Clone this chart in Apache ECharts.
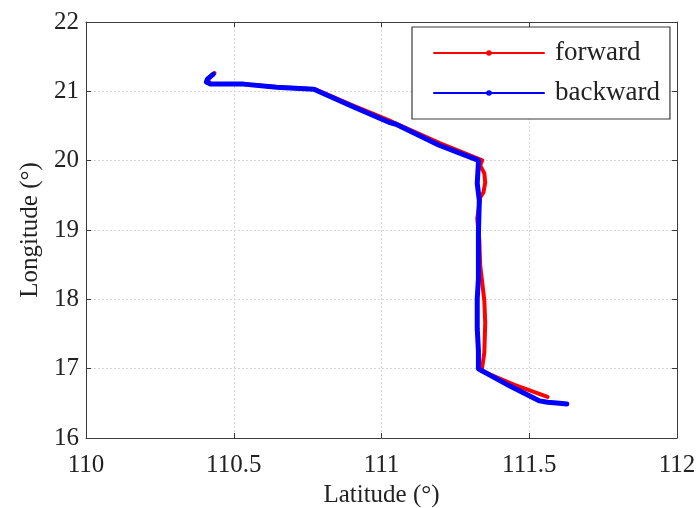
<!DOCTYPE html>
<html>
<head>
<meta charset="utf-8">
<script src="https://cdn.jsdelivr.net/npm/echarts@6/dist/echarts.min.js"></script>
<style>html,body{margin:0;padding:0;background:#fff}#c{width:697px;height:508px}</style>
</head>
<body>
<div id="c"></div>
<script>
// x values: "Latitude (°)" axis, y values: "Longitude (°)" axis
const xTicks = [110, 110.5, 111, 111.5, 112];
const yTicks = [16, 17, 18, 19, 20, 21, 22];

const forwardX = [110.435, 110.411, 110.421, 110.533, 110.645, 110.774, 110.900, 111.032, 111.199, 111.341,
  111.334, 111.348, 111.351, 111.345, 111.334, 111.328, 111.324, 111.331, 111.334, 111.341, 111.348,
  111.351, 111.348, 111.341, 111.338, 111.450, 111.562];
const forwardY = [21.263, 21.176, 21.104, 21.104, 21.062, 21.031, 20.800, 20.569, 20.251, 20.005,
  19.933, 19.817, 19.687, 19.542, 19.470, 19.282, 19.166, 18.848, 18.487, 18.241, 17.981,
  17.663, 17.229, 17.027, 16.969, 16.766, 16.593];

const backwardX = [110.431, 110.411, 110.407, 110.421, 110.455, 110.533, 110.645, 110.771, 110.900, 111.025,
  111.049, 111.195, 111.328, 111.328, 111.324, 111.331, 111.328, 111.328, 111.328, 111.324, 111.324,
  111.328, 111.328, 111.433, 111.535, 111.562, 111.593, 111.627];
const backwardY = [21.248, 21.176, 21.133, 21.104, 21.104, 21.104, 21.060, 21.031, 20.786, 20.554,
  20.525, 20.222, 20.005, 19.976, 19.672, 19.427, 18.949, 18.603, 18.299, 18.010, 17.576,
  17.258, 16.998, 16.752, 16.535, 16.515, 16.506, 16.492];

const seriesNames = ['forward', 'backward'];
const xTitle = 'Latitude (°)';
const yTitle = 'Longitude (°)';

const font = '"Liberation Serif", serif';
const axisColor = '#3a3a3a';

function pairs(xs, ys) { return xs.map((x, i) => [x, ys[i]]); }

const chart = echarts.init(document.getElementById('c'), null, {renderer: 'canvas'});
const baseAxis = {
  axisLine: {show: true, onZero: false, lineStyle: {color: axisColor, width: 1}},
  axisTick: {show: true, inside: true, length: 5, lineStyle: {color: axisColor}},
};
chart.setOption({
  animation: false,
  backgroundColor: '#fff',
  grid: {left: 86, right: 20, top: 22, bottom: 70, containLabel: false, outerBoundsMode: 'none'},
  xAxis: [
    Object.assign({}, baseAxis, {
      type: 'value', min: xTicks[0], max: xTicks[xTicks.length - 1], interval: 0.5, position: 'bottom',
      name: xTitle, nameLocation: 'middle', nameGap: 45,
      nameTextStyle: {fontFamily: font, fontSize: 25, color: '#222'},
      axisLabel: {fontFamily: font, fontSize: 25, color: '#222', margin: 15},
      splitLine: {show: true, lineStyle: {color: '#d4d4d4', type: [2, 2], width: 1}}
    }),
    Object.assign({}, baseAxis, {
      type: 'value', min: xTicks[0], max: xTicks[xTicks.length - 1], interval: 0.5, position: 'top',
      axisLabel: {show: false}, splitLine: {show: false}
    })
  ],
  yAxis: [
    Object.assign({}, baseAxis, {
      type: 'value', min: yTicks[0], max: yTicks[yTicks.length - 1], interval: 1, position: 'left',
      name: yTitle, nameLocation: 'middle', nameGap: 43, nameRotate: 90,
      nameTextStyle: {fontFamily: font, fontSize: 25, color: '#222'},
      axisLabel: {fontFamily: font, fontSize: 25, color: '#222', margin: 7},
      splitLine: {show: true, lineStyle: {color: '#d4d4d4', type: [2, 2], width: 1}}
    }),
    Object.assign({}, baseAxis, {
      type: 'value', min: yTicks[0], max: yTicks[yTicks.length - 1], interval: 1, position: 'right',
      axisLabel: {show: false}, splitLine: {show: false}
    })
  ],
  legend: {
    data: seriesNames,
    orient: 'vertical',
    left: 412, top: 27,
    padding: [12.5, 10, 12.5, 21],
    itemWidth: 110, itemHeight: 7, itemGap: 13,
    borderColor: axisColor, borderWidth: 1.2, borderRadius: 0,
    backgroundColor: '#fff',
    textStyle: {fontFamily: font, fontSize: 27, color: '#222', padding: [0, 0, 0, 6]}
  },
  series: [
    {
      name: seriesNames[0], type: 'line', data: pairs(forwardX, forwardY),
      showSymbol: false, symbol: 'circle', symbolSize: 5, smooth: false,
      lineStyle: {color: '#ff0000', width: 4, join: 'round', cap: 'round'},
      itemStyle: {color: '#ff0000'}, z: 2
    },
    {
      name: seriesNames[1], type: 'line', data: pairs(backwardX, backwardY),
      showSymbol: false, symbol: 'circle', symbolSize: 5, smooth: false,
      lineStyle: {color: '#0000ff', width: 5, join: 'round', cap: 'round'},
      itemStyle: {color: '#0000ff'}, z: 3
    }
  ]
});
</script>
</body>
</html>
